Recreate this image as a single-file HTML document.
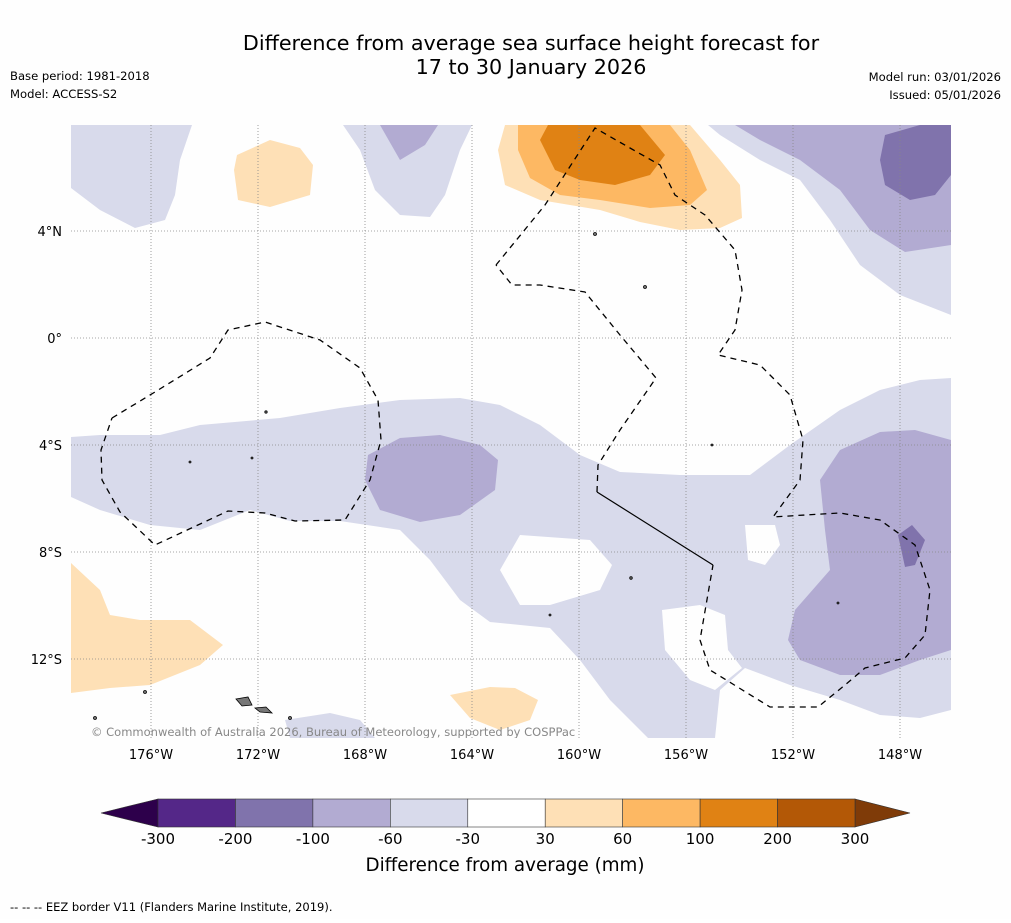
<!DOCTYPE html>
<html><head><meta charset="utf-8"><style>
body{margin:0;background:#fff;font-family:"DejaVu Sans",sans-serif;}
svg text{font-family:"DejaVu Sans",sans-serif;}
</style></head><body>
<svg id="s" width="1011" height="919" xmlns="http://www.w3.org/2000/svg">
<rect width="1011" height="919" fill="#fefefe"/>
<text x="531" y="50" font-size="20.7" text-anchor="middle">Difference from average sea surface height forecast for</text>
<text x="531" y="74" font-size="20.7" text-anchor="middle">17 to 30 January 2026</text>
<text x="10" y="80" font-size="11.6">Base period: 1981-2018</text>
<text x="10" y="98" font-size="11.6">Model: ACCESS-S2</text>
<text x="1001" y="81" font-size="11.6" text-anchor="end">Model run: 03/01/2026</text>
<text x="1001" y="99" font-size="11.6" text-anchor="end">Issued: 05/01/2026</text>
<defs><clipPath id="c"><rect x="71" y="125" width="880" height="613"/></clipPath></defs>
<g clip-path="url(#c)">
<g>
<polygon fill="#d8daeb" points="71,125 192,125 180,160 175,195 165,220 135,228 100,210 71,188"/>
<polygon fill="#d8daeb" points="343,125 472,125 460,150 445,195 430,217 400,215 375,190 360,150"/>
<polygon fill="#b2abd2" points="380,125 438,125 425,145 400,160"/>
<polygon fill="#d8daeb" points="708,125 951,125 951,315 900,295 860,265 830,220 800,180 760,160 720,135"/>
<polygon fill="#b2abd2" points="735,125 951,125 951,245 905,252 870,230 840,190 800,160 760,140"/>
<polygon fill="#8073ac" points="885,135 920,125 951,125 951,175 935,195 910,200 885,185 880,160"/>
<polygon fill="#d8daeb" points="71,437 100,435 160,435 200,425 280,418 340,408 400,400 460,398 500,405 540,425 580,455 620,472 680,475 750,475 790,445 840,410 880,390 920,380 951,378 951,710 920,718 880,715 840,700 790,685 745,668 720,690 715,738 648,738 610,700 580,660 550,628 490,622 460,600 430,560 400,530 340,521 290,521 250,510 200,530 150,525 100,510 71,497"/>
<polygon fill="#fefefe" points="500,570 520,535 590,540 612,565 600,590 550,605 520,605"/>
<polygon fill="#fefefe" points="662,610 700,605 725,615 728,650 742,668 715,690 690,680 665,650"/>
<polygon fill="#fefefe" points="745,525 775,525 780,545 765,565 748,560"/>
<polygon fill="#b2abd2" points="368,455 400,438 440,435 480,445 498,460 495,490 460,515 420,522 380,510 365,480"/>
<polygon fill="#b2abd2" points="820,480 840,450 880,432 915,430 951,440 951,650 920,660 880,675 840,675 800,660 788,640 795,610 830,570 825,530"/>
<polygon fill="#8073ac" points="898,535 912,525 925,540 915,565 905,567"/>
<polygon fill="#d8daeb" points="285,720 330,713 360,720 375,738 290,738"/>
</g>
<g>
<polygon fill="#fee0b6" points="505,125 690,125 720,160 740,185 742,218 720,228 680,230 640,222 600,210 540,200 505,185 498,150"/>
<polygon fill="#fdb863" points="518,125 670,125 690,150 707,190 690,205 650,208 600,200 560,195 530,178 518,150"/>
<polygon fill="#e08214" points="548,125 640,125 665,155 650,175 615,185 580,180 555,170 540,140"/>
<polygon fill="#fee0b6" points="237,155 270,140 300,148 313,165 310,195 270,207 238,200 234,170"/>
<polygon fill="#fee0b6" points="71,563 100,590 110,615 140,620 190,620 223,645 200,665 150,685 110,688 71,693"/>
<polygon fill="#fee0b6" points="450,695 490,687 515,688 538,700 530,720 500,730 470,718"/>
</g>
<g id="grid" stroke="#888" stroke-width="0.8" stroke-dasharray="1,2"></g>
<g fill="none" stroke="#000" stroke-width="1.3" stroke-dasharray="6,5">
<polyline points="112,418 155,392 210,358 228,330 265,322 320,340 360,368 378,400 381,440 370,480 345,520 295,521 265,513 228,511 155,545 120,512 102,480 101,450 112,418"/>
<polyline points="496,265 545,205 595,128 630,148 660,165 675,195 705,215 735,250 742,290 735,330 718,355 760,365 790,395 803,440 800,480 773,517 805,515 840,513 880,520 915,545 930,590 925,635 905,658 865,668 845,685 818,707 770,707 710,670 700,640 713,565"/>
<polyline points="597,492 598,465 620,430 656,378 620,335 585,292 540,285 512,285 496,265"/>
</g>
<line x1="597" y1="492" x2="713" y2="565" stroke="#000" stroke-width="1.2"/>
<g fill="#777" stroke="#000" stroke-width="0.8">
<polygon points="236,699 248,697 252,705 242,706"/>
<polygon points="255,708 266,707 272,713 260,712"/>
<circle cx="645" cy="287" r="1.5"/><circle cx="595" cy="234" r="1.5"/><circle cx="145" cy="692" r="1.5"/>
<circle cx="266" cy="412" r="1.2"/><circle cx="252" cy="458" r="1"/><circle cx="190" cy="462" r="1"/>
<circle cx="712" cy="445" r="1"/><circle cx="631" cy="578" r="1.3"/><circle cx="550" cy="615" r="1"/>
<circle cx="95" cy="718" r="1.5"/><circle cx="290" cy="718" r="1.5"/><circle cx="838" cy="603" r="1"/>
</g>
<text x="91" y="736" font-size="11.5" fill="#888">© Commonwealth of Australia 2026, Bureau of Meteorology, supported by COSPPac</text>
</g>
<g id="ticks" font-size="13"></g>
<g id="cbar"></g>
<text x="505" y="871" font-size="18.3" text-anchor="middle">Difference from average (mm)</text>
<text x="10" y="911" font-size="11.5">-- -- -- EEZ border V11 (Flanders Marine Institute, 2019).</text>
</svg>
<script>
const lonTicks=[-176,-172,-168,-164,-160,-156,-152,-148];
const latTicks=[4,0,-4,-8,-12];
const cbLevels=[-300,-200,-100,-60,-30,30,60,100,200,300];
const cbColors=["#542788","#8073ac","#b2abd2","#d8daeb","#ffffff","#fee0b6","#fdb863","#e08214","#b35806"];
const NS="http://www.w3.org/2000/svg";
const xLon=l=>151+(l+176)*26.75, yLat=l=>338-l*26.75;
const grid=document.getElementById('grid'),ticks=document.getElementById('ticks'),cb=document.getElementById('cbar');
function mk(t,a,p){const e=document.createElementNS(NS,t);for(const k in a)e.setAttribute(k,a[k]);p.appendChild(e);return e;}
lonTicks.forEach(l=>{const x=xLon(l);
 const g=mk('line',{x1:x,y1:125,x2:x,y2:738},grid);
 
 
 const t=mk('text',{x:x,y:759,'text-anchor':'middle'},ticks);t.textContent=Math.abs(l)+'°W';
 
 });
latTicks.forEach(l=>{const y=yLat(l);
 const g=mk('line',{x1:71,y1:y,x2:951,y2:y},grid);
 
 
 const t=mk('text',{x:62,y:y+5,'text-anchor':'end'},ticks);t.textContent=l===0?'0°':Math.abs(l)+'°'+(l>0?'N':'S');
 
 });
const x0=158,x1=855,n=cbLevels.length-1,w=(x1-x0)/n,cy=799,ch=28;
const lo=mk('polygon',{points:`${x0},${cy} ${x0},${cy+ch} 101,${cy+ch/2}`,fill:'#2d004b',stroke:'#333','stroke-width':0.6},cb);


const hi=mk('polygon',{points:`${x1},${cy} ${x1},${cy+ch} 910,${cy+ch/2}`,fill:'#7f3b08',stroke:'#333','stroke-width':0.6},cb);


cbColors.forEach((c,i)=>{const r=mk('rect',{x:x0+i*w,y:cy,width:w,height:ch,fill:c,stroke:'#333','stroke-width':0.6},cb);
 
 });
cbLevels.forEach((v,i)=>{const t=mk('text',{x:x0+i*w,y:844,'text-anchor':'middle','font-size':15},cb);t.textContent=v;
 
 });
</script>
</body></html>
